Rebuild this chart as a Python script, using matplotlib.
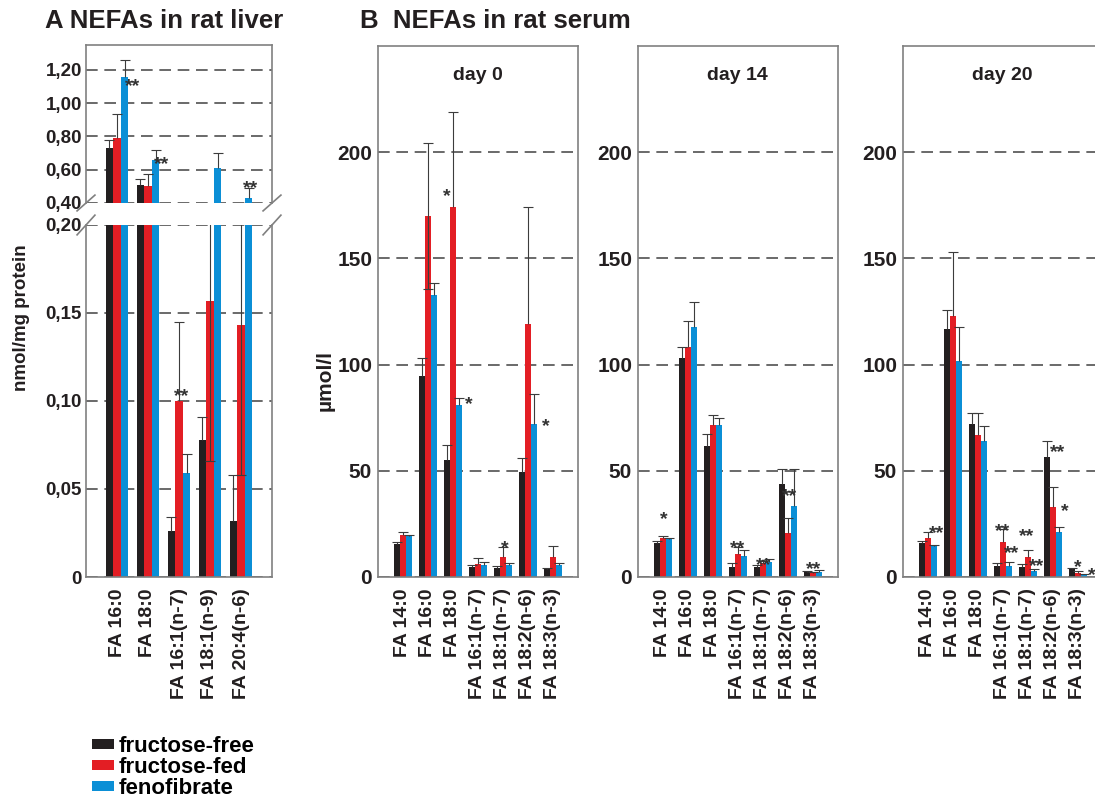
import numpy as np
import matplotlib
matplotlib.use('Agg')
import matplotlib.pyplot as plt

plt.rcParams['font.family'] = ['Liberation Sans', 'DejaVu Sans']
plt.rcParams['font.weight'] = 'bold'

groups = ['fructose-free', 'fructose-fed', 'fenofibrate']
colors = ['#231f20', '#e31e24', '#0b8fd6']

# A: NEFAs in liver (nmol/mg protein) - bar height, top of error bar, lower cap (None = not drawn)
liver_fa = ['FA 16:0', 'FA 18:0', 'FA 16:1(n-7)', 'FA 18:1(n-9)', 'FA 20:4(n-6)']
liver_free = [0.73, 0.51, 0.026, 0.078, 0.032]
liver_free_top = [0.78, 0.544, 0.034, 0.091, 0.058]
liver_fed = [0.79, 0.50, 0.100, 0.157, 0.143]
liver_fed_top = [0.934, 0.574, 0.145, 0.248, 0.228]
liver_fed_low = [None, None, None, 0.066, 0.058]
liver_feno = [1.156, 0.658, 0.059, 0.61, 0.43]
liver_feno_top = [1.26, 0.72, 0.070, 0.70, 0.49]
# significance marks: (group, bar slot, y, text)
liver_stars = [(0, 2.05, 1.14, '**'), (1, 1.73, 0.67, '**'), (4, 1.2, 0.526, '**'),
               (2, 0.33, 0.106, '**')]
upper_ticks = [0.40, 0.60, 0.80, 1.00, 1.20]
upper_labels = ['0,40', '0,60', '0,80', '1,00', '1,20']
lower_ticks = [0, 0.05, 0.10, 0.15, 0.20]
lower_labels = ['0', '0,05', '0,10', '0,15', '0,20']

# B: NEFAs in serum (umol/l)
serum_fa = ['FA 14:0', 'FA 16:0', 'FA 18:0', 'FA 16:1(n-7)', 'FA 18:1(n-7)',
            'FA 18:2(n-6)', 'FA 18:3(n-3)']
days = ['day 0', 'day 14', 'day 20']

d0_free = [15.7, 94.6, 55.0, 4.5, 4.2, 49.3, 3.7]
d0_free_top = [16.5, 103.0, 62.0, 5.6, 5.0, 55.9, 4.4]
d0_fed = [19.7, 170.0, 174.0, 6.2, 9.6, 119.2, 9.6]
d0_fed_top = [21.0, 204.5, 219.0, 8.8, 14.1, 174.3, 14.8]
d0_fed_low = [None, 135.5, None, None, None, None, None]
d0_feno = [19.4, 132.7, 80.8, 5.7, 5.7, 71.9, 5.6]
d0_feno_top = [19.9, 138.4, 84.2, 7.1, 6.7, 86.2, 6.7]
d0_stars = [(2, -1.0, 182, '*'), (2, 2.6, 84, '*'), (4, 0.4, 16.5, '*'), (5, 2.95, 74, '*')]

d14_free = [16.0, 103.2, 61.6, 4.5, 4.5, 43.8, 2.2]
d14_free_top = [16.8, 108.5, 67.4, 6.7, 5.7, 50.9, 3.0]
d14_fed = [18.5, 108.5, 71.6, 10.9, 6.7, 20.5, 1.7]
d14_fed_top = [19.4, 120.4, 76.1, 14.0, 7.6, 27.8, 2.2]
d14_feno = [17.8, 117.5, 71.4, 10.1, 7.1, 33.2, 2.4]
d14_feno_top = [18.5, 129.3, 75.0, 12.6, 8.4, 51.0, 3.4]
d14_stars = [(0, 0.2, 30, '*'), (3, 0, 16.5, '**'), (4, 0.2, 8.5, '**'),
             (5, 0.3, 41, '**'), (6, 0.1, 6.5, '**')]

d20_free = [15.9, 116.9, 71.9, 5.2, 4.7, 56.6, 3.6]
d20_free_top = [17.0, 125.5, 77.3, 6.8, 6.0, 63.8, 4.4]
d20_fed = [18.3, 123.1, 67.0, 16.5, 9.6, 33.0, 2.0]
d20_fed_top = [21.1, 153.1, 77.0, 22.5, 12.7, 42.5, 2.8]
d20_feno = [14.8, 101.6, 64.0, 5.2, 2.8, 21.4, 1.3]
d20_feno_top = [15.1, 117.7, 71.0, 7.2, 3.9, 23.7, 1.6]
d20_stars = [(0, 1.45, 23.3, '**'), (3, 0, 24.4, '**'), (3, 1.45, 13.8, '**'),
             (4, -0.15, 22, '**'), (4, 1.5, 7.9, '**'), (5, 0.85, 61.8, '**'),
             (5, 2.05, 34, '*'), (6, 0.05, 7.5, '*'), (6, 2.35, 3.6, '*')]
serum_ticks = [0, 50, 100, 150, 200]

w = 0.245
ecol = '#3c3c3c'
spine_col = '#808080'
txt_col = '#231f20'


def draw_bars(ax, vals, tops, lows):
    bars = []
    for k in range(3):
        x = np.arange(len(vals[k])) + (k - 1) * w
        v = np.array(vals[k], dtype=float)
        t = np.array(tops[k], dtype=float)
        lo = np.array([np.nan if a is None else a for a in lows[k]], dtype=float)
        bars.append(ax.bar(x, v, w, color=colors[k], zorder=2, label=groups[k]))
        start = np.where(np.isnan(lo), v, lo)
        ax.vlines(x, start, t, colors=ecol, lw=0.8, zorder=3)
        ax.plot(x, t, ls='none', marker='_', ms=7, mew=0.8, color=ecol, zorder=3)
        m = ~np.isnan(lo)
        if m.any():
            ax.plot(x[m], lo[m], ls='none', marker='_', ms=7, mew=0.8, color=ecol, zorder=3)
    return bars


def draw_stars(ax, stars, fs=14):
    for g, slot, y, s in stars:
        ax.annotate(s, (g + slot * w, y), xytext=(0, -0.56 * fs), textcoords='offset points',
                    ha='center', va='baseline', fontsize=fs, color='#333333',
                    annotation_clip=False, zorder=4)


def style_axes(ax, n):
    for sp in ax.spines.values():
        sp.set_color(spine_col)
        sp.set_linewidth(1.2)
    ax.set_xlim(-1, n)
    ax.yaxis.grid(True, ls=(0, (7, 4)), color='#505050', lw=1.2)
    ax.set_axisbelow(True)
    ax.tick_params(length=0, colors=txt_col)


fig = plt.figure(figsize=(10.95, 7.99), dpi=100)
W, H = 1095.0, 799.0

# ---- panel A, broken y axis ----
ax_up = fig.add_axes([86 / W, 1 - 203 / H, 186 / W, 158 / H])
ax_lo = fig.add_axes([86 / W, 1 - 577 / H, 186 / W, 352 / H])
liver_vals = [liver_free, liver_fed, liver_feno]
liver_tops = [liver_free_top, liver_fed_top, liver_feno_top]
liver_lows = [[None] * 5, liver_fed_low, [None] * 5]
for ax in (ax_up, ax_lo):
    draw_bars(ax, liver_vals, liver_tops, liver_lows)
    style_axes(ax, len(liver_fa))
    ax.tick_params(axis='y', labelsize=13.5, pad=3)

ax_up.set_ylim(0.40, 1.35)
ax_up.set_yticks(upper_ticks)
ax_up.set_yticklabels(upper_labels)
ax_up.set_xticks([])
ax_up.spines['bottom'].set_visible(False)

ax_lo.set_ylim(0, 0.20)
ax_lo.set_yticks(lower_ticks)
ax_lo.set_yticklabels(lower_labels)
ax_lo.spines['top'].set_visible(False)
ax_lo.set_xticks(np.arange(len(liver_fa)))
ax_lo.set_xticklabels(liver_fa, rotation=90, fontsize=14, va='top')
ax_lo.tick_params(axis='x', pad=8)

draw_stars(ax_up, [s for s in liver_stars if s[2] > 0.3])
draw_stars(ax_lo, [s for s in liver_stars if s[2] <= 0.3])

# break marks
kw = dict(color=spine_col, lw=1.2, clip_on=False)
for xa in (0, 1):
    ax_up.plot([xa - 0.048, xa + 0.048], [-0.05, 0.05], transform=ax_up.transAxes, **kw)
    ax_lo.plot([xa - 0.048, xa + 0.048], [1 - 0.028, 1 + 0.028], transform=ax_lo.transAxes, **kw)

# ---- panel B ----
serum = [
    ([d0_free, d0_fed, d0_feno], [d0_free_top, d0_fed_top, d0_feno_top],
     [[None] * 7, d0_fed_low, [None] * 7], d0_stars),
    ([d14_free, d14_fed, d14_feno], [d14_free_top, d14_fed_top, d14_feno_top],
     [[None] * 7] * 3, d14_stars),
    ([d20_free, d20_fed, d20_feno], [d20_free_top, d20_fed_top, d20_feno_top],
     [[None] * 7] * 3, d20_stars),
]
lefts = [377.7, 637.7, 902.7]
handles = None
for i, (vals, tops, lows, stars) in enumerate(serum):
    ax = fig.add_axes([lefts[i] / W, 1 - 577 / H, 200 / W, 531 / H])
    bars = draw_bars(ax, vals, tops, lows)
    if handles is None:
        handles = bars
    style_axes(ax, len(serum_fa))
    ax.set_ylim(0, 250)
    ax.set_yticks(serum_ticks)
    ax.tick_params(axis='y', labelsize=15, pad=4)
    ax.set_xticks(np.arange(len(serum_fa)))
    ax.set_xticklabels(serum_fa, rotation=90, fontsize=14, va='top')
    ax.tick_params(axis='x', pad=8)
    draw_stars(ax, stars)
    ax.text(0.5, 0.945, days[i], transform=ax.transAxes, ha='center', va='center',
            fontsize=14, color=txt_col)

fig.text(45 / W, 1 - 28 / H, 'A NEFAs in rat liver', fontsize=18.5, color=txt_col,
         ha='left', va='baseline')
fig.text(360 / W, 1 - 28 / H, 'B  NEFAs in rat serum', fontsize=18.5, color=txt_col,
         ha='left', va='baseline')
fig.text(22 / W, 1 - 318 / H, 'nmol/mg protein', rotation=90, fontsize=13.5,
         color=txt_col, ha='center', va='center')
fig.text(325 / W, 1 - 380 / H, 'µmol/l', rotation=90, fontsize=15,
         color=txt_col, ha='center', va='center')

fig.legend(handles, groups, loc='upper left', bbox_to_anchor=(92 / W, 1 - 736 / H),
           frameon=False, fontsize=16, handlelength=1.0, handleheight=0.33,
           handletextpad=0.18, labelspacing=0.0, borderpad=0, borderaxespad=0)

fig.savefig('out.png', dpi=100)
